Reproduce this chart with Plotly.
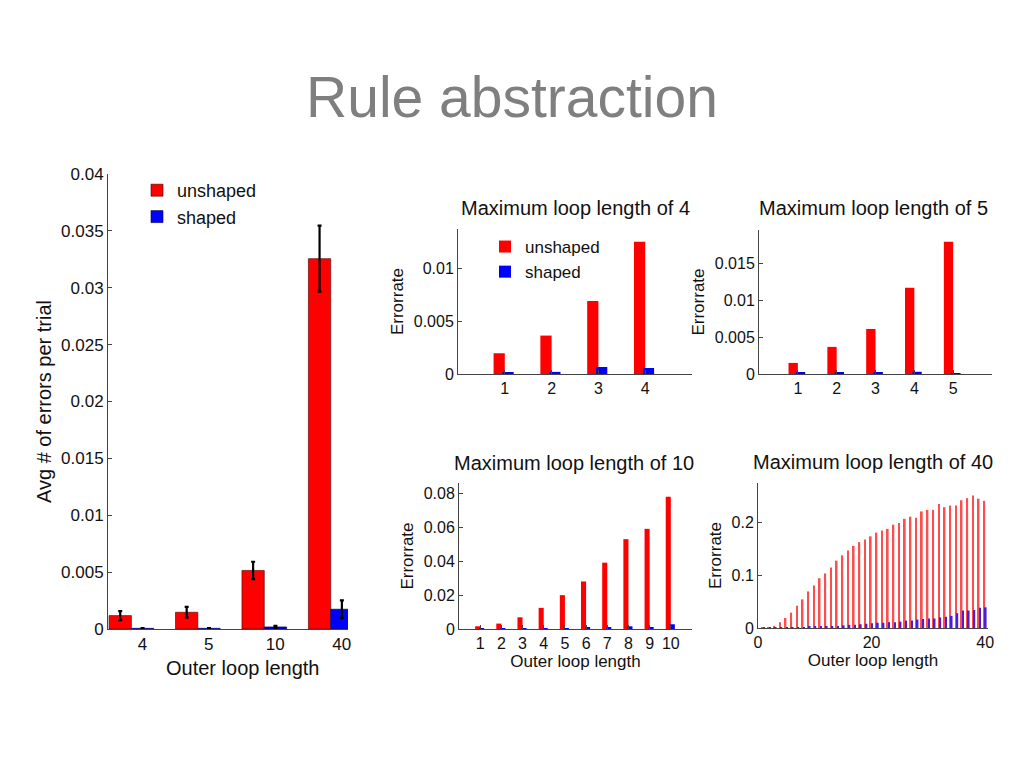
import plotly.graph_objects as go

# ---------------- data ----------------
# Left chart: average errors per trial by outer loop length
main_cats = ["4", "5", "10", "40"]
main_unshaped = [0.00118, 0.00147, 0.00515, 0.03256]
main_unshaped_err = [0.0004, 0.00047, 0.00076, 0.0029]
main_shaped = [0.00006, 0.00006, 0.00018, 0.00174]
main_shaped_err = [0.00002, 0.00003, 0.0001, 0.00077]

# Panel: maximum loop length of 4
p4_x = [1, 2, 3, 4]
p4_unshaped = [0.00196, 0.00363, 0.0069, 0.0125]
p4_shaped = [0.0001, 0.0002, 0.00066, 0.00057]

# Panel: maximum loop length of 5
p5_x = [1, 2, 3, 4, 5]
p5_unshaped = [0.0015, 0.00367, 0.0061, 0.01167, 0.0179]
p5_shaped = [0.00014, 0.00014, 0.00018, 0.0003, 0.0001]

# Panel: maximum loop length of 10
p10_x = [1, 2, 3, 4, 5, 6, 7, 8, 9, 10]
p10_unshaped = [0.0016, 0.0032, 0.0069, 0.0125, 0.0200, 0.0281, 0.0392, 0.0531, 0.0592, 0.0782]
p10_shaped = [0.00005, 0.00005, 0.0001, 0.0003, 0.0004, 0.0008, 0.001, 0.0016, 0.0012, 0.0028]

# Panel: maximum loop length of 40
p40_x = list(range(1, 41))
p40_unshaped = [0.0005, 0.001, 0.004, 0.011, 0.019, 0.029, 0.042, 0.054, 0.069, 0.080,
                0.094, 0.103, 0.114, 0.127, 0.137, 0.146, 0.155, 0.162, 0.167, 0.173,
                0.180, 0.184, 0.187, 0.195, 0.198, 0.206, 0.210, 0.208, 0.220, 0.223,
                0.223, 0.234, 0.228, 0.231, 0.231, 0.241, 0.245, 0.250, 0.244, 0.240]
p40_shaped = [0.0002, 0.0002, 0.0003, 0.0004, 0.0005, 0.001, 0.001, 0.001, 0.002, 0.002,
              0.002, 0.003, 0.003, 0.004, 0.005, 0.006, 0.006, 0.007, 0.008, 0.009,
              0.010, 0.010, 0.011, 0.011, 0.012, 0.014, 0.014, 0.016, 0.017, 0.018,
              0.018, 0.020, 0.021, 0.023, 0.028, 0.033, 0.033, 0.034, 0.038, 0.039]

panel_titles = ["Maximum loop length of 4", "Maximum loop length of 5",
                "Maximum loop length of 10", "Maximum loop length of 40"]

RED = "#ff0000"
BLUE = "#0000ff"
FONT = "Liberation Sans, Arial, Helvetica, sans-serif"
W, H = 1023, 767
OFF = 8  # page body margin


def px_x(x):
    return (x - OFF) / W


def px_y(y):
    return 1 - (y - OFF) / H


fig = go.Figure()

# ---- left chart ----
bw = 0.336
fig.add_trace(go.Bar(x=main_cats, y=main_unshaped, name="unshaped", marker_color=RED,
                     marker_line=dict(color="#400000", width=0.6), width=bw, offset=-bw,
                     error_y=dict(type="data", array=main_unshaped_err, color="black",
                                  thickness=2.2, width=2),
                     xaxis="x", yaxis="y", legend="legend"))
fig.add_trace(go.Bar(x=main_cats, y=main_shaped, name="shaped", marker_color=BLUE,
                     marker_line=dict(color="#000040", width=0.6), width=bw, offset=0,
                     error_y=dict(type="data", array=main_shaped_err, color="black",
                                  thickness=2.2, width=2),
                     xaxis="x", yaxis="y", legend="legend"))

# ---- small panels ----
pw = 0.24
panels = [
    (p4_x, p4_unshaped, p4_shaped, "2", True, RED, BLUE, pw),
    (p5_x, p5_unshaped, p5_shaped, "3", False, RED, BLUE, pw),
    (p10_x, p10_unshaped, p10_shaped, "4", False, RED, BLUE, pw),
    (p40_x, p40_unshaped, p40_shaped, "5", False, "#ff4d4d", "#4a1ed6", 0.3),
]
for xs, un, sh, k, leg, cr, cb, w in panels:
    fig.add_trace(go.Bar(x=xs, y=un, name="unshaped", marker_color=cr, marker_line_width=0,
                         width=w, offset=-w, xaxis="x" + k, yaxis="y" + k,
                         showlegend=leg, legend="legend2"))
    fig.add_trace(go.Bar(x=xs, y=sh, name="shaped", marker_color=cb, marker_line_width=0,
                         width=w, offset=-0.05, xaxis="x" + k, yaxis="y" + k,
                         showlegend=leg, legend="legend2"))

axis_common = dict(showline=True, linecolor="#444", linewidth=1, showgrid=False,
                   zeroline=False, ticks="inside", ticklen=4, tickcolor="#444",
                   tickfont=dict(family=FONT, size=16, color="#111"))

layout = dict(
    width=W, height=H, margin=dict(l=0, r=0, t=0, b=0),
    paper_bgcolor="white", plot_bgcolor="white", template="none",
    barmode="overlay",
    font=dict(family=FONT, color="#111"),
    title=dict(text="Rule abstraction", x=px_x(512), xanchor="center", y=px_y(97),
               yanchor="middle", font=dict(family=FONT, size=57, color="#7f7f7f")),
    showlegend=True,
    legend=dict(x=px_x(137), y=px_y(172), xanchor="left", yanchor="top",
                bgcolor="rgba(0,0,0,0)", font=dict(family=FONT, size=18, color="#111"),
                itemwidth=30, tracegroupgap=0),
    legend2=dict(x=px_x(485), y=px_y(229), xanchor="left", yanchor="top",
                 bgcolor="rgba(0,0,0,0)", font=dict(family=FONT, size=17, color="#111"),
                 itemwidth=30, tracegroupgap=0),
)

# left chart axes
layout["xaxis"] = dict(axis_common, type="category", domain=[px_x(108), px_x(348)],
                       range=[-0.352, 3.26], anchor="y", ticklabelshift=11, ticks="",
                       tickfont=dict(family=FONT, size=17, color="#111"))
layout["yaxis"] = dict(axis_common, domain=[px_y(629), px_y(174)], range=[0, 0.04],
                       dtick=0.005, anchor="x",
                       tickfont=dict(family=FONT, size=17, color="#111"),
                       title=dict(text="Avg # of errors per trial", standoff=4,
                                  font=dict(family=FONT, size=20, color="#111")))

# panel geometry (pixel boxes)
boxes = {
    "2": (458, 692, 229, 374, [0, 5], [0, 0.0137], 0.005, p4_x),
    "3": (759, 992, 230, 374, [0, 6], [0, 0.0195], 0.005, p5_x),
    "4": (459, 692, 483, 629, [0, 11], [0, 0.0863], 0.02, p10_x),
    "5": (758, 988, 483, 628, [0, 40.5], [0, 0.2736], 0.1, [0, 20, 40]),
}
for k, (x0, x1, y0, y1, xr, yr, dt, tv) in boxes.items():
    xa = dict(axis_common, domain=[px_x(x0), px_x(x1)], range=xr, tickvals=tv,
              anchor="y" + k)
    if k in ("4", "5"):
        xa["title"] = dict(text="Outer loop length", standoff=2,
                           font=dict(family=FONT, size=17, color="#111"))
    ya = dict(axis_common, domain=[px_y(y1), px_y(y0)], range=yr, dtick=dt,
              anchor="x" + k,
              title=dict(text="Errorrate", standoff=5,
                         font=dict(family=FONT, size=17, color="#111")))
    layout["xaxis" + k] = xa
    layout["yaxis" + k] = ya

title_pos = [(575, 208), (873, 208), (574, 463), (873, 462)]
annotations = [
    dict(text=t, x=px_x(px), y=px_y(py), xref="paper", yref="paper", showarrow=False,
         xanchor="center", yanchor="middle", font=dict(family=FONT, size=20, color="#111"))
    for t, (px, py) in zip(panel_titles, title_pos)
]
# x-axis title of the left chart (offset to the right as in the original)
annotations.append(dict(text="Outer loop length", x=px_x(242), y=px_y(668), xref="paper",
                        yref="paper", showarrow=False, xanchor="center", yanchor="middle",
                        font=dict(family=FONT, size=20, color="#111")))
layout["annotations"] = annotations

fig.update_layout(**layout)
fig.write_html("out.html")
